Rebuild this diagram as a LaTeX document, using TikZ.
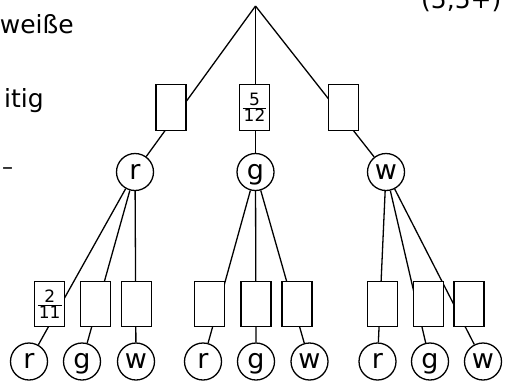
\documentclass[tikz,border=0pt]{standalone}
\usepackage{fontspec}
\setmainfont{DejaVu Sans}
\newcommand{\bxfrac}[2]{$\frac{\mbox{#1}}{\mbox{\kern1pt#2\kern1pt}}$}
\tikzset{
  leaf/.style={circle,draw,fill=white,line width=1.3pt,minimum size=37pt,inner sep=0pt,
    text height=14.8pt,text depth=0pt,font=\fontsize{27}{27}\selectfont},
  pbox/.style={rectangle,draw,fill=white,line width=1.3pt,minimum width=30pt,
    minimum height=45pt,inner sep=0pt,font=\fontsize{17}{17}\selectfont},
  edge/.style={line width=1.3pt},
  cut/.style={inner sep=0pt,font=\fontsize{25}{25}\selectfont}
}
\begin{document}
\begin{tikzpicture}[x=1pt,y=-1pt]
\useasboundingbox (0,0) rectangle (510,381);
\clip (0,0) rectangle (510,381);
% cut-off texts
\node[cut,anchor=base east] (t1) at (74,33) {weiße};
\node[cut,anchor=base east] (t2) at (44,107.5) {itig};
\node[cut,anchor=base west] (t3) at (2,174) {\fontsize{22}{22}\selectfont –};
\node[cut,anchor=base west] (t4) at (421,8) {(5,5+)};
% tree
\coordinate (root) at (255.5,6);
\node[leaf] (r1) at (135,172) {r};
\node[leaf] (g1) at (255.5,172) {g};
\node[leaf] (w1) at (386,172) {w};
\node[leaf] (a1) at (29,361.5) {r};
\node[leaf] (a2) at (82,361.5) {g};
\node[leaf] (a3) at (136,361.5) {w};
\node[leaf] (b1) at (203,361.5) {r};
\node[leaf] (b2) at (256,361.5) {g};
\node[leaf] (b3) at (309.5,361.5) {w};
\node[leaf] (c1) at (377.5,361.5) {r};
\node[leaf] (c2) at (430,361.5) {g};
\node[leaf] (c3) at (483,361.5) {w};
\draw[edge] (root) -- (r1);
\draw[edge] (root) -- (g1);
\draw[edge] (root) -- (w1);
\foreach \p/\c in {r1/a1,r1/a2,r1/a3,g1/b1,g1/b2,g1/b3,w1/c1,w1/c2,w1/c3}
  \draw[edge] (\p) -- (\c);
% probability boxes
\node[pbox,minimum height=46pt] (p1) at (171,107.5) {};
\node[pbox,minimum height=46pt] (p2) at (254.5,107.5) {\bxfrac{5}{12}};
\node[pbox,minimum height=46pt] (p3) at (343.3,107.5) {};
\node[pbox] (q1) at (49.7,304) {\bxfrac{2}{11}};
\node[pbox] (q2) at (95.8,304) {};
\node[pbox] (q3) at (136.3,304) {};
\node[pbox] (q4) at (209.7,304) {};
\node[pbox] (q5) at (256,304) {};
\node[pbox] (q6) at (297,304) {};
\node[pbox] (q7) at (382.3,304) {};
\node[pbox] (q8) at (428.3,304) {};
\node[pbox] (q9) at (469,304) {};
\end{tikzpicture}
\end{document}
